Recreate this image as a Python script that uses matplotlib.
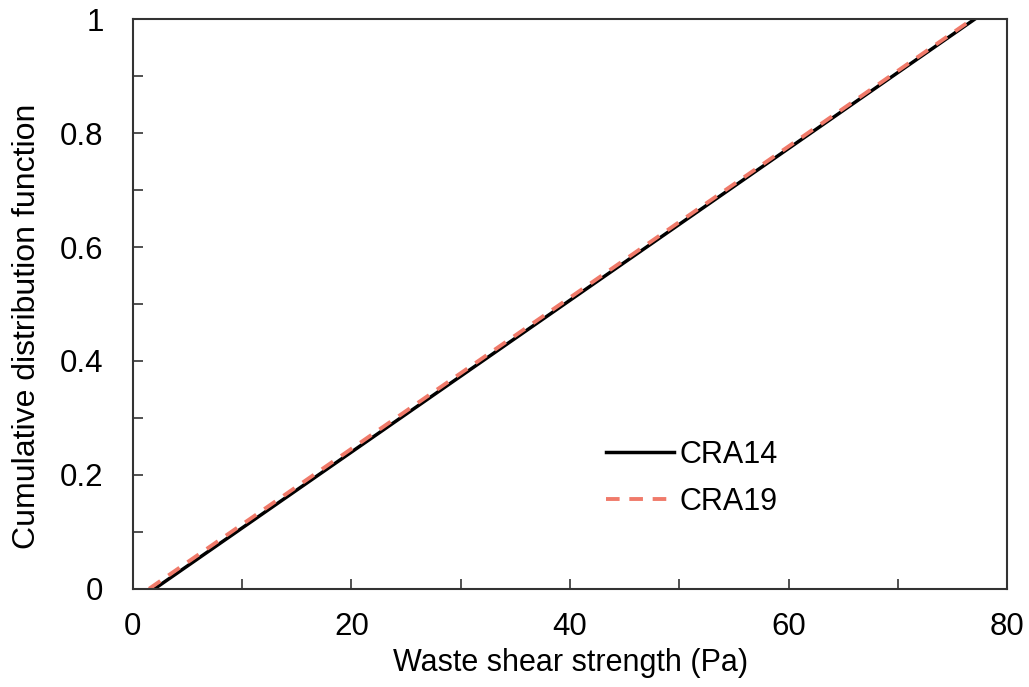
import matplotlib
matplotlib.use("Agg")
from matplotlib import pyplot as plt
from matplotlib.ticker import MultipleLocator

plt.rcParams['font.family'] = ['Liberation Sans', 'DejaVu Sans']

# waste shear strength (Pa) and CDF values
shear_cra14 = [2.0, 77.0]
cdf_cra14 = [0.0, 1.0]
shear_cra19 = [1.5, 76.8]
cdf_cra19 = [0.0, 1.0]

fig = plt.figure(figsize=(10.29, 6.87), dpi=100)
ax = fig.add_axes([0.129, 0.143, 0.85, 0.829])

ax.plot(shear_cra14, cdf_cra14, color='black', lw=2.5, label='CRA14')
ax.plot(shear_cra19, cdf_cra19, color='#f07a6a', lw=2.8, ls=(0, (3.5, 2.5)), label='CRA19')

ax.set_xlim(0, 80)
ax.set_ylim(0, 1)
ax.xaxis.set_minor_locator(MultipleLocator(10))
ax.yaxis.set_minor_locator(MultipleLocator(0.1))
ax.set_xticks([0, 20, 40, 60, 80])
ax.set_xticklabels(['0', '20', '40', '60', '80'])
ax.set_yticks([0, 0.2, 0.4, 0.6, 0.8, 1])
ax.set_yticklabels(['0', '0.2', '0.4', '0.6', '0.8', '1'])
ax.tick_params(which='both', direction='in', labelsize=22.5, width=1.2, color='#333333')
ax.tick_params(which='major', length=7)
ax.tick_params(which='minor', length=7)
ax.tick_params(axis='x', which='major', pad=17)
ax.tick_params(axis='y', which='major', pad=21)
for s in ax.spines.values():
    s.set_linewidth(1.5)
    s.set_color('#333333')

ax.set_xlabel('Waste shear strength (Pa)', fontsize=22, labelpad=4)
ax.set_ylabel('Cumulative distribution function', fontsize=23)
ax.yaxis.set_label_coords(-0.104, 0.46)

ax.legend(loc='upper left', bbox_to_anchor=(0.51, 0.31), frameon=False, fontsize=22,
          handlelength=2.2, handletextpad=0.2, labelspacing=0.55)

fig.savefig('out.png')
